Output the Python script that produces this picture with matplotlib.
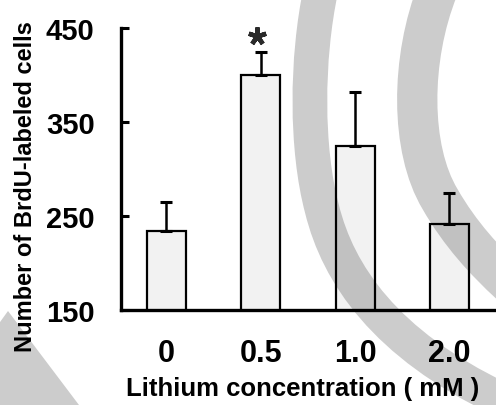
import matplotlib.pyplot as plt
from matplotlib.path import Path
from matplotlib.patches import PathPatch, Polygon
from matplotlib.transforms import Affine2D

plt.rcParams['font.family'] = ['Liberation Sans', 'DejaVu Sans']
plt.rcParams['font.weight'] = 'bold'

# data
concentrations = ['0', '0.5', '1.0', '2.0']
mean_cells = [234, 400, 324, 242]
sem_cells = [31, 24, 58, 33]
y_ticks = [150, 250, 350, 450]
signif = [False, True, False, False]

W, H = 496, 406
fig = plt.figure(figsize=(W / 100, H / 100), dpi=100)

# background watermark arcs, in pixel coords (origin top-left)
px = Affine2D().scale(1 / W, -1 / H).translate(0, 1) + fig.transFigure
grey = '#cccccc'

outer = Path([(321, -10), (306, 60), (306, 150), (322, 210),
              (338, 275), (385, 345), (500, 400)],
             [Path.MOVETO, Path.CURVE4, Path.CURVE4, Path.CURVE4,
              Path.CURVE4, Path.CURVE4, Path.CURVE4])
inner = Path([(438, -10), (410, 60), (410, 150), (440, 200),
              (460, 235), (485, 262), (510, 285)],
             [Path.MOVETO, Path.CURVE4, Path.CURVE4, Path.CURVE4,
              Path.CURVE4, Path.CURVE4, Path.CURVE4])
for p, lw in [(outer, 25), (inner, 29)]:
    fig.add_artist(PathPatch(p, transform=px, facecolor='none', edgecolor=grey,
                             linewidth=lw, capstyle='butt', zorder=-5))
fig.add_artist(Polygon([(-5, 330), (8, 312), (82, 410), (-5, 410)], closed=True,
                       transform=px, facecolor=grey, edgecolor='none', zorder=-5))

ax = fig.add_axes([121 / W, 95 / H, 375 / W, 282 / H])
ax.patch.set_alpha(0)

x = range(len(concentrations))
ax.bar(x, mean_cells, width=0.414, bottom=0, color=(0, 0, 0, 0.05),
       edgecolor='black', linewidth=1.6, zorder=3)
ax.errorbar(x, mean_cells, yerr=[[0] * len(sem_cells), sem_cells], fmt='none',
            ecolor='black', elinewidth=1.8, capsize=4.3, capthick=2.2, zorder=2)

# significance asterisk above the error bar
for i, s in enumerate(signif):
    if s:
        ax.plot(i - 0.04, mean_cells[i] + sem_cells[i] + 18, marker=(5, 2, 0),
                markersize=13, markeredgewidth=3.2, color='#2a2a2a',
                linestyle='none', clip_on=False, zorder=4)

ax.set_ylim(150, 450)
ax.set_xlim(-0.482, 3.494)
ax.set_yticks(y_ticks)
ax.set_xticks(list(x))
ax.set_xticklabels(concentrations)

for side in ['top', 'right']:
    ax.spines[side].set_visible(False)
ax.spines['left'].set_linewidth(2.4)
ax.spines['bottom'].set_linewidth(2.4)

ax.tick_params(axis='y', direction='in', length=6, width=2.2, pad=19, labelsize=21)
ax.tick_params(axis='x', length=0, pad=20, labelsize=22)
for lab in ax.get_xticklabels() + ax.get_yticklabels():
    lab.set_fontweight('bold')

ax.set_xlabel('Lithium concentration ( mM )', fontsize=18.5, fontweight='bold')
ax.set_ylabel('Number of BrdU-labeled cells', fontsize=17, fontweight='bold')
ax.xaxis.set_label_coords(0.483, -0.234)
ax.yaxis.set_label_coords(-0.224, 0.44)

fig.savefig('out.png', dpi=100)
